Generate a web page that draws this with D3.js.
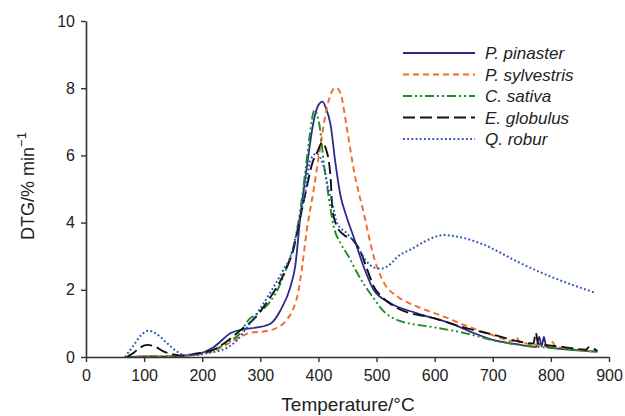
<!DOCTYPE html>
<html>
<head lang="en">
	<meta charset="UTF-8">
	<title>DTG</title>
	<script src="https://cdn.jsdelivr.net/npm/d3@7"></script>
	<style>
		body { margin: 0; background: #fff; }
		text { font-family: "Liberation Sans", Arial, sans-serif; fill: #222; }
	</style>
</head>
<body>

<script>

	// [temperature, dtg]
	var pinaster = [[70,0],[100,0.02],[130,0.01],[160,0.03],[190,0.08],[220,0.3],[250,0.72],[270,0.82],[295,0.88],[318,1.0],[335,1.4],[352,2.1],[360,2.7],[369,4.2],[380,5.65],[391,6.95],[400,7.5],[407,7.6],[413,7.4],[421,6.9],[429,5.8],[438,4.8],[447,4.25],[461,3.55],[478,2.68],[495,2.0],[524,1.6],[570,1.3],[628,1.0],[662,0.75],[702,0.5],[740,0.38],[775,0.3],[780,0.6],[784,0.32],[788,0.6],[792,0.3],[830,0.22],[880,0.16]];
	var sylvestris = [[70,0],[100,0.01],[150,0.02],[180,0.05],[220,0.18],[250,0.45],[266,0.6],[285,0.73],[306,0.76],[334,0.92],[345,1.1],[357,1.45],[366,2.0],[372,2.7],[380,3.78],[392,5.0],[403,6.25],[415,7.45],[423,7.9],[430,8.02],[438,7.85],[449,6.8],[461,5.55],[478,4.28],[495,3.0],[513,2.2],[536,1.8],[570,1.5],[616,1.2],[656,0.92],[700,0.65],[735,0.47],[741,0.58],[746,0.45],[780,0.36],[800,0.33],[803,0.45],[807,0.32],[840,0.22],[880,0.15]];
	var sativa = [[70,0],[100,0.01],[150,0.03],[180,0.08],[220,0.22],[250,0.5],[266,0.72],[277,1.05],[300,1.35],[317,1.65],[335,2.2],[346,2.7],[360,3.5],[369,4.4],[378,5.6],[385,6.6],[393,7.34],[398,7.2],[403,6.76],[409,5.8],[415,5.07],[421,4.38],[426,3.9],[438,3.39],[452,2.99],[467,2.49],[481,2.09],[495,1.75],[510,1.4],[536,1.1],[600,0.88],[650,0.72],[700,0.5],[750,0.35],[800,0.27],[850,0.2],[880,0.16]];
	var globulus = [[70,0],[80,0.1],[95,0.3],[105,0.36],[120,0.3],[133,0.17],[150,0.08],[165,0.04],[190,0.1],[220,0.22],[245,0.5],[266,0.8],[290,1.15],[306,1.5],[320,1.85],[334,2.25],[345,2.65],[357,3.2],[365,3.85],[378,4.9],[390,5.8],[398,6.1],[406,6.38],[415,6.07],[421,5.3],[424,4.4],[432,3.88],[444,3.63],[461,3.45],[472,3.15],[484,2.6],[495,2.1],[510,1.78],[536,1.45],[600,1.15],[656,0.85],[700,0.67],[740,0.48],[770,0.4],[774,0.72],[778,0.4],[820,0.3],[860,0.22],[866,0.3],[880,0.18]];
	var robur = [[67,0],[80,0.3],[95,0.65],[107,0.78],[120,0.7],[139,0.42],[155,0.18],[170,0.06],[190,0.06],[210,0.12],[240,0.25],[260,0.5],[280,0.95],[300,1.45],[320,2.0],[340,2.6],[352,3.0],[365,3.9],[378,5.0],[386,5.85],[396,6.05],[403,5.95],[410,5.6],[417,5.0],[424,4.58],[432,3.98],[449,3.68],[467,3.29],[481,2.89],[495,2.67],[507,2.63],[518,2.69],[541,3.05],[559,3.2],[582,3.43],[616,3.63],[640,3.58],[685,3.34],[742,2.84],[800,2.39],[875,1.92]];

	var names = ["P. pinaster", "P. sylvestris", "C. sativa", "E. globulus", "Q. robur"];
	var xTicks = [0, 100, 200, 300, 400, 500, 600, 700, 800, 900];
	var yTicks = [0, 2, 4, 6, 8, 10];

	var series = [
		{name: names[0], data: pinaster, color: "#2e2a8a", dash: null, width: 1.8},
		{name: names[1], data: sylvestris, color: "#f26a26", dash: "6,4", width: 1.9},
		{name: names[2], data: sativa, color: "#1e8c1e", dash: "9,3,2,3,2,3", width: 1.9},
		{name: names[3], data: globulus, color: "#111111", dash: "12,5", width: 1.9},
		{name: names[4], data: robur, color: "#2f4fc0", dash: "1.8,2.4", width: 2}
	];

	var svg = d3.select("body").append("svg").attr("width", 625).attr("height", 416);

	var x = d3.scaleLinear().domain([0, 900]).range([86, 609]);
	var y = d3.scaleLinear().domain([0, 10]).range([357, 21]);

	var line = d3.line()
		.x(function (d) { return x(d[0]); })
		.y(function (d) { return y(d[1]); })
		.curve(d3.curveMonotoneX);

	series.forEach(function (s) {
		svg.append("path")
			.attr("d", line(s.data))
			.attr("fill", "none")
			.attr("stroke", s.color)
			.attr("stroke-width", s.width)
			.attr("stroke-dasharray", s.dash);
	});

	var xAxis = svg.append("g")
		.attr("transform", "translate(0," + y(0) + ")")
		.call(d3.axisBottom(x).tickValues(xTicks).tickSize(5).tickPadding(8).tickSizeOuter(0));
	var yAxis = svg.append("g")
		.attr("transform", "translate(" + x(0) + ",0)")
		.call(d3.axisLeft(y).tickValues(yTicks).tickSize(5).tickPadding(6).tickSizeOuter(0));

	[xAxis, yAxis].forEach(function (g) {
		g.select(".domain").attr("stroke", "#333").attr("stroke-width", 1.6);
		g.selectAll(".tick line").attr("stroke", "#333").attr("stroke-width", 1.4);
		g.selectAll(".tick text").attr("font-size", 16).attr("fill", "#222")
			.style("font-family", "'Liberation Sans', Arial, sans-serif");
	});

	svg.append("text")
		.attr("x", 348)
		.attr("y", 411)
		.attr("text-anchor", "middle")
		.attr("font-size", 19)
		.text("Temperature/\u00B0C");

	var yTitle = svg.append("text")
		.attr("transform", "translate(34,186) rotate(-90)")
		.attr("text-anchor", "middle")
		.attr("font-size", 18);
	yTitle.append("tspan").text("DTG/% min");
	yTitle.append("tspan").attr("font-size", 13).attr("dy", -8).text("\u22121");

	// legend
	var legend = svg.append("g");
	series.forEach(function (s, i) {
		var ly = 53 + i * 21.5;
		legend.append("line")
			.attr("x1", 403).attr("x2", 475)
			.attr("y1", ly).attr("y2", ly)
			.attr("stroke", s.color)
			.attr("stroke-width", s.width)
			.attr("stroke-dasharray", s.dash);
		legend.append("text")
			.attr("x", 485).attr("y", ly + 6)
			.attr("font-size", 17)
			.attr("font-style", "italic")
			.text(s.name);
	});

</script>

</body>
</html>
